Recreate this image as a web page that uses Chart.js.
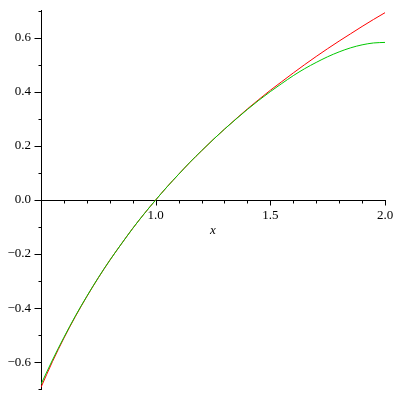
<!DOCTYPE html>
<html>
<head>
<meta charset="utf-8">
<script src="https://cdn.jsdelivr.net/npm/chart.js@4/dist/chart.umd.min.js"></script>
<style>
body{margin:0;background:#fff;}
canvas{display:block;}
</style>
</head>
<body>
<canvas id="plot" width="400" height="400"></canvas>
<script>
// values, x step 0.05
const xValues = [0.50,0.55,0.60,0.65,0.70,0.75,0.80,0.85,0.90,0.95,1.00,1.05,1.10,1.15,1.20,1.25,1.30,1.35,1.40,1.45,1.50,1.55,1.60,1.65,1.70,1.75,1.80,1.85,1.90,1.95,2.00];
const redValues = [-0.693,-0.598,-0.511,-0.431,-0.357,-0.288,-0.223,-0.163,-0.105,-0.051,0,0.049,0.095,0.140,0.182,0.223,0.262,0.300,0.337,0.372,0.406,0.438,0.470,0.501,0.531,0.560,0.588,0.615,0.642,0.668,0.693];
const greenValues = [-0.682,-0.592,-0.508,-0.429,-0.356,-0.287,-0.223,-0.163,-0.105,-0.051,0,0.049,0.095,0.140,0.182,0.223,0.262,0.299,0.335,0.369,0.401,0.431,0.460,0.486,0.509,0.530,0.548,0.563,0.574,0.581,0.583];
const xMajorLabels = [1.0, 1.5, 2.0];
const yMajorLabels = [-0.6, -0.4, -0.2, 0.0, 0.2, 0.4, 0.6];

function toPoints(ys){
    let pts = [];
    for (let i = 0; i < xValues.length; i++) {
        pts.push({x: xValues[i], y: ys[i]});
    }
    return pts;
}
function isMajor(list, v){
    return list.some(m => Math.abs(m - v) < 1e-6);
}
function fmt(v){
    let s = Math.abs(v).toFixed(1);
    return v < -1e-6 ? "\u2212" + s : s;
}

const font = {family: "'Liberation Serif', 'DejaVu Serif', serif", size: 13};

// tick marks (long for labelled ticks, short otherwise) and the x label
const axisDecor = {
    id: 'axisDecor',
    afterDraw(chart){
        const ctx = chart.ctx;
        const xs = chart.scales.x, ys = chart.scales.y;
        const y0 = Math.round(ys.getPixelForValue(0)) + 0.5;
        const left = chart.chartArea.left + 0.5;
        ctx.save();
        ctx.strokeStyle = '#000';
        ctx.lineWidth = 1;
        ctx.beginPath();
        xs.ticks.forEach(t => {
            if (t.value <= 0.5 + 1e-6) return;
            let px = Math.round(xs.getPixelForValue(t.value)) + 0.5;
            let len = isMajor(xMajorLabels, t.value) ? 5 : 3;
            ctx.moveTo(px, y0);
            ctx.lineTo(px, y0 + len);
        });
        ys.ticks.forEach(t => {
            let py = Math.round(ys.getPixelForValue(t.value)) + 0.5;
            let len = isMajor(yMajorLabels, t.value) ? 7 : 3;
            ctx.moveTo(left, py);
            ctx.lineTo(left - len, py);
        });
        ctx.stroke();
        ctx.fillStyle = '#000';
        ctx.font = "italic 13px 'Liberation Serif', serif";
        ctx.textAlign = 'center';
        ctx.textBaseline = 'alphabetic';
        ctx.fillText('x', xs.getPixelForValue(1.25), ys.getPixelForValue(0) + 34);
        ctx.restore();
    }
};

new Chart(document.getElementById('plot').getContext('2d'), {
    type: 'line',
    data: {
        datasets: [
            {data: toPoints(greenValues), borderColor: 'rgb(0,200,0)', borderWidth: 1, pointRadius: 0, cubicInterpolationMode: 'monotone'},
            {data: toPoints(redValues), borderColor: 'rgb(255,0,0)', borderWidth: 1, pointRadius: 0, cubicInterpolationMode: 'monotone'}
        ]
    },
    options: {
        responsive: false,
        animation: false,
        layout: {padding: {left: 0, right: 15, top: 9, bottom: 9}},
        plugins: {legend: {display: false}, tooltip: {enabled: false}},
        scales: {
            x: {
                type: 'linear',
                position: {y: 0},
                min: 0.5,
                max: 2.0,
                afterFit(scale){ scale.height = 0; },
                grid: {display: false, drawTicks: true, tickLength: 5},
                border: {display: true, color: '#000', width: 1},
                ticks: {
                    stepSize: 0.1, includeBounds: false, autoSkip: false, maxRotation: 0, padding: 3,
                    color: '#000', font: font,
                    callback: v => isMajor(xMajorLabels, v) ? v.toFixed(1) : ''
                }
            },
            y: {
                type: 'linear',
                position: 'left',
                min: -0.7,
                max: 0.7,
                afterFit(scale){ scale.width = 41; },
                grid: {display: false, drawTicks: true, tickLength: 7},
                border: {display: true, color: '#000', width: 1},
                ticks: {
                    stepSize: 0.1, includeBounds: true, autoSkip: false, padding: 3,
                    color: '#000', font: font,
                    callback: v => isMajor(yMajorLabels, v) ? fmt(v) : ''
                }
            }
        }
    },
    plugins: [axisDecor]
});
</script>
</body>
</html>
